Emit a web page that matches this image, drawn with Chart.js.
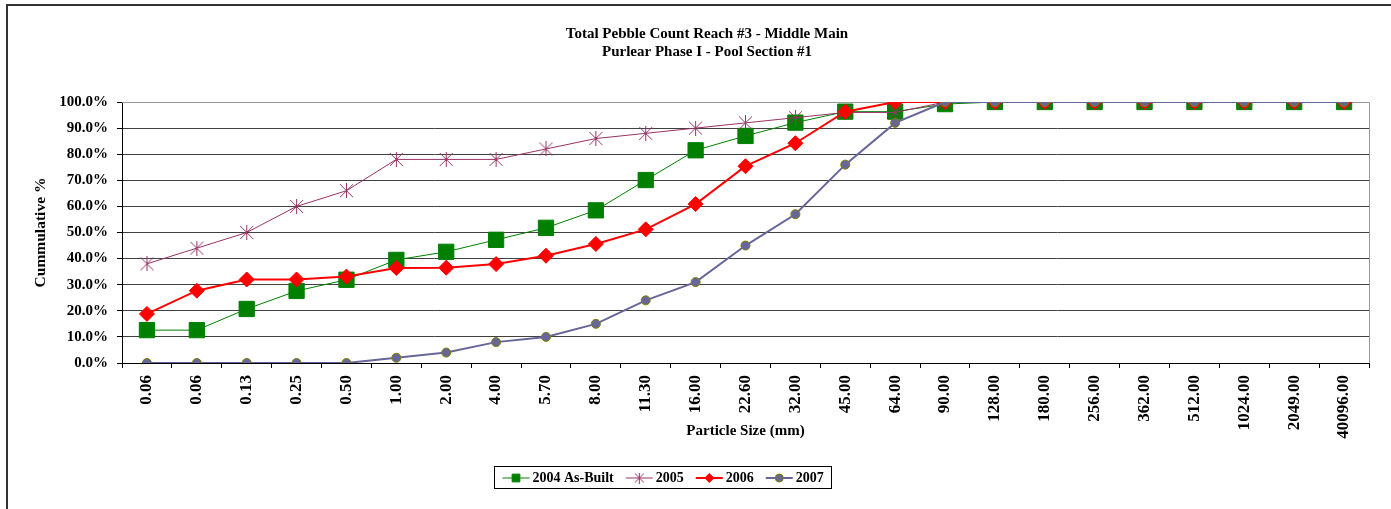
<!DOCTYPE html>
<html>
<head>
<meta charset="utf-8">
<title>Total Pebble Count Reach #3</title>
<script src="https://cdn.jsdelivr.net/npm/chart.js@4.4.1/dist/chart.umd.min.js"></script>
<style>
  html, body { margin: 0; padding: 0; background: #fff; }
  #chart { display: block; }
</style>
</head>
<body>
<canvas id="chart" width="1391" height="509"></canvas>
<script>
/* Pebble count — cumulative % by particle size */

const TITLE_LINES = ['Total Pebble Count Reach #3 - Middle Main', 'Purlear Phase I - Pool Section #1'];

const sizes = ['0.06', '0.06', '0.13', '0.25', '0.50', '1.00', '2.00', '4.00', '5.70', '8.00',
  '11.30', '16.00', '22.60', '32.00', '45.00', '64.00', '90.00', '128.00', '180.00', '256.00',
  '362.00', '512.00', '1024.00', '2049.00', '40096.00'];

const asBuilt2004 = [12.6, 12.6, 20.7, 27.6, 31.9, 39.5, 42.6, 47.2, 51.8, 58.5,
  70.1, 81.5, 87.0, 92.1, 96.3, 96.3, 99.2, 100, 100, 100, 100, 100, 100, 100, 100];
const year2005 = [38, 44, 50, 60, 66, 78, 78, 78, 82, 86,
  88, 90, 92, 94, 96, 96, 100, 100, 100, 100, 100, 100, 100, 100, 100];
const year2006 = [18.8, 27.7, 32.0, 32.0, 33.1, 36.4, 36.5, 37.9, 41.1, 45.6,
  51.2, 60.9, 75.4, 84.2, 96.3, 100, 100, 100, 100, 100, 100, 100, 100, 100, 100];
const year2007 = [0, 0, 0, 0, 0, 2, 4, 8, 10, 15,
  24, 31, 45, 57, 76, 92, 100, 100, 100, 100, 100, 100, 100, 100, 100];

const SERIF = "'Liberation Serif', 'Times New Roman', serif";

// Excel-like asterisk marker (X plus vertical bar)
function makeStar(size, color) {
  const c = document.createElement('canvas');
  c.width = size; c.height = size;
  const g = c.getContext('2d');
  g.strokeStyle = color;
  g.lineWidth = 1;
  const m = size / 2;
  g.beginPath();
  g.moveTo(1, 1); g.lineTo(size - 1, size - 1);
  g.moveTo(size - 1, 1); g.lineTo(1, size - 1);
  g.moveTo(m, 0); g.lineTo(m, size);
  g.stroke();
  return c;
}
const starBig = makeStar(15, '#993366');
const starSmall = makeStar(11, '#993366');

const series = [
  { label: '2004 As-Built', data: asBuilt2004, color: '#008000', fill: '#008000', border: '#008000',
    style: 'rect', radius: 10.8, lw: 1, order: 4, legendStyle: 'rect', legendRadius: 5.5 },
  { label: '2005', data: year2005, color: '#993366', fill: '#993366', border: '#993366',
    style: starBig, radius: 7, lw: 1, order: 3, legendStyle: starSmall, legendRadius: 5 },
  { label: '2006', data: year2006, color: '#FF0000', fill: '#FF0000', border: '#FF0000',
    style: 'rectRot', radius: 7.5, lw: 2, order: 2, legendStyle: 'rectRot', legendRadius: 4.5 },
  { label: '2007', data: year2007, color: '#666699', fill: '#666699', border: '#808000',
    style: 'circle', radius: 4.5, lw: 2, order: 1, legendStyle: 'circle', legendRadius: 4 }
];

const framePlugin = {
  id: 'frame',
  beforeDraw(chart) {
    const ctx = chart.ctx;
    ctx.save();
    ctx.fillStyle = '#fff';
    ctx.fillRect(0, 0, chart.width, chart.height);
    ctx.strokeStyle = '#333';
    ctx.lineWidth = 2;
    ctx.beginPath();
    ctx.moveTo(7, chart.height); ctx.lineTo(7, 5); ctx.lineTo(chart.width, 5);
    ctx.stroke();
    // chart title
    ctx.fillStyle = '#000';
    ctx.font = 'bold 15px ' + SERIF;
    ctx.textAlign = 'center';
    ctx.textBaseline = 'middle';
    ctx.fillText(TITLE_LINES[0], 707, 34);
    ctx.fillText(TITLE_LINES[1], 707, 52);
    ctx.restore();
  },
  beforeDatasetsDraw(chart) {
    const { ctx, chartArea: a } = chart;
    ctx.save();
    ctx.strokeStyle = '#999';
    ctx.lineWidth = 1;
    ctx.beginPath();
    ctx.moveTo(a.left, a.top + 0.5); ctx.lineTo(a.right + 0.5, a.top + 0.5); ctx.lineTo(a.right + 0.5, a.bottom);
    ctx.stroke();
    ctx.restore();
  }
};

function drawMarker(ctx, style, r, fill, border, x, y) {
  if (Chart.helpers && Chart.helpers.drawPoint) {
    ctx.fillStyle = fill; ctx.strokeStyle = border; ctx.lineWidth = 1;
    Chart.helpers.drawPoint(ctx, { pointStyle: style, radius: r, borderWidth: 1 }, x, y);
  }
}

const boxLegendPlugin = {
  id: 'boxLegend',
  afterDraw(chart) {
    const ctx = chart.ctx;
    ctx.save();
    ctx.font = 'bold 14px ' + SERIF;
    const lineLen = 27, textGap = 3, itemGap = 12, padX = 8;
    const widths = series.map(s => ctx.measureText(s.label).width);
    let total = padX * 2;
    widths.forEach((w, i) => { total += lineLen + textGap + w + (i < series.length - 1 ? itemGap : 0); });
    const cx = 663, top = 466, h = 22;
    const left = Math.round(cx - total / 2) + 0.5;
    ctx.strokeStyle = '#000';
    ctx.lineWidth = 1;
    ctx.strokeRect(left, top + 0.5, Math.round(total), h);
    const my = top + h / 2 + 1;
    let x = left + padX;
    series.forEach((s, i) => {
      ctx.strokeStyle = s.color;
      ctx.lineWidth = s.lw;
      ctx.beginPath(); ctx.moveTo(x, my); ctx.lineTo(x + lineLen, my); ctx.stroke();
      drawMarker(ctx, s.legendStyle, s.legendRadius, s.fill, s.border, x + lineLen / 2, my);
      ctx.fillStyle = '#000';
      ctx.textAlign = 'left';
      ctx.textBaseline = 'middle';
      ctx.fillText(s.label, x + lineLen + textGap, my);
      x += lineLen + textGap + widths[i] + itemGap;
    });
    ctx.restore();
  }
};

new Chart(document.getElementById('chart'), {
  type: 'line',
  data: {
    labels: sizes,
    datasets: series.map(s => ({
      label: s.label,
      data: s.data,
      borderColor: s.color,
      backgroundColor: s.fill,
      borderWidth: s.lw,
      pointStyle: s.style,
      pointRadius: s.radius,
      pointHoverRadius: s.radius,
      pointBackgroundColor: s.fill,
      pointBorderColor: s.border,
      pointBorderWidth: 1,
      tension: 0,
      fill: false,
      order: s.order
    }))
  },
  options: {
    responsive: false,
    animation: false,
    layout: { padding: { left: 8, right: 22, top: 102, bottom: 69 } },
    plugins: {
      legend: { display: false },
      title: { display: false },
      tooltip: { enabled: false }
    },
    scales: {
      x: {
        offset: true,
        grid: { offset: true, drawOnChartArea: false, drawTicks: true, tickLength: 5, color: '#000' },
        border: { color: '#000', width: 1 },
        ticks: {
          autoSkip: false, minRotation: 90, maxRotation: 90, padding: 7, color: '#000',
          font: { family: SERIF, size: 17, weight: 'bold' }
        },
        title: {
          display: true, text: 'Particle Size (mm)', color: '#000',
          font: { family: SERIF, size: 15, weight: 'bold' }, padding: { top: 0, bottom: 0 }
        },
        afterFit: s => { s.height = 77; }
      },
      y: {
        min: 0, max: 100,
        grid: { color: '#404040', tickColor: '#000', tickLength: 5, drawTicks: true },
        border: { color: '#000', width: 1 },
        ticks: {
          stepSize: 10, padding: 9, color: '#000',
          callback: v => v.toFixed(1) + '%',
          font: { family: SERIF, size: 15, weight: 'bold' }
        },
        title: {
          display: true, text: 'Cummulative %', color: '#000',
          font: { family: SERIF, size: 15.5, weight: 'bold' }, padding: { top: 24, bottom: 0 }
        },
        afterFit: s => { s.width = 114; }
      }
    }
  },
  plugins: [framePlugin, boxLegendPlugin]
});
</script>
</body>
</html>
